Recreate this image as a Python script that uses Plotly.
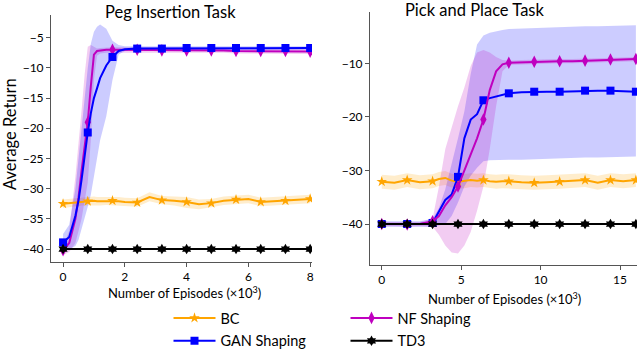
import numpy as np
import plotly.graph_objects as go

W, H = 638, 350

# ---------------- Peg Insertion (x in thousands of episodes) ----------------
peg_x = [0, 0.2, 0.4, 0.5, 0.6, 0.7, 0.8, 0.9, 1.0, 1.1, 1.2, 1.4, 1.6, 1.8, 2.0,
         2.4, 2.8, 3.2, 3.6, 4.0, 4.4, 4.8, 5.2, 5.6, 6.0, 6.4, 6.8, 7.2, 7.6, 8.0]
peg_bc = [-32.5, -32.4, -32.2, -32.2, -32.1, -32.1, -32.1, -32.0, -32.0, -32.1, -32.1, -32.0, -32.0, -32.1, -32.2,
          -32.3, -31.4, -31.9, -32.0, -32.2, -32.6, -32.4, -32.0, -31.8, -31.7, -32.2, -32.1, -32.0, -31.8, -31.7]
peg_bc_lo = [-33.2, -33.1, -32.9, -32.9, -32.8, -32.8, -32.8, -32.7, -32.7, -32.8, -32.8, -32.7, -32.7, -32.8, -32.9,
             -33.0, -32.1, -32.6, -32.8, -33.2, -33.4, -33.1, -32.7, -32.5, -32.4, -32.9, -32.8, -32.7, -32.5, -32.4]
peg_bc_hi = [-31.8, -31.7, -31.5, -31.5, -31.4, -31.4, -31.4, -31.3, -31.3, -31.4, -31.4, -31.3, -31.3, -31.4, -31.5,
             -31.6, -30.6, -31.2, -31.3, -31.4, -31.8, -31.7, -31.3, -31.1, -31.0, -31.5, -31.4, -31.3, -31.1, -31.0]
peg_gan = [-38.9, -38.0, -34.5, -32.0, -28.5, -24.5, -20.7, -17.5, -15.0, -13.4, -11.7, -9.6, -8.2, -7.2, -6.9,
           -6.8, -6.8, -6.8, -6.7, -6.7, -6.7, -6.7, -6.7, -6.7, -6.7, -6.7, -6.7, -6.7, -6.7, -6.7]
peg_gan_lo = [-40.3, -40.1, -39.5, -38.5, -37.0, -35.0, -33.0, -31.0, -28.0, -25.0, -22.0, -18.0, -12.0, -7.8, -7.2,
              -7.1, -7.1, -7.1, -7.0, -7.0, -7.0, -7.0, -7.0, -7.0, -7.0, -7.0, -7.0, -7.0, -7.0, -7.0]
peg_gan_hi = [-37.5, -36.0, -30.0, -25.0, -20.0, -14.0, -10.0, -6.0, -4.0, -3.2, -2.8, -3.5, -5.5, -6.2, -6.4,
              -6.4, -6.4, -6.4, -6.4, -6.4, -6.4, -6.4, -6.4, -6.4, -6.4, -6.4, -6.4, -6.4, -6.4, -6.4]
peg_nf = [-40.2, -39.0, -35.0, -31.5, -27.0, -23.0, -19.0, -13.0, -7.8, -7.2, -7.1, -7.0, -7.0, -7.0, -7.0,
          -7.0, -7.0, -7.1, -7.1, -7.1, -7.1, -7.1, -7.1, -7.2, -7.2, -7.2, -7.2, -7.2, -7.3, -7.3]
peg_nf_lo = [-41.0, -40.5, -39.0, -37.0, -35.0, -32.0, -29.0, -22.0, -12.0, -8.0, -7.6, -7.5, -7.4, -7.4, -7.4,
             -7.4, -7.4, -7.5, -7.5, -7.5, -7.5, -7.5, -7.5, -7.6, -7.6, -7.6, -7.6, -7.6, -7.7, -7.7]
peg_nf_hi = [-39.5, -37.0, -28.0, -23.0, -17.0, -11.0, -6.5, -6.2, -6.5, -6.8, -6.7, -6.6, -6.6, -6.6, -6.6,
             -6.6, -6.6, -6.7, -6.7, -6.7, -6.7, -6.7, -6.7, -6.8, -6.8, -6.8, -6.8, -6.8, -6.9, -6.9]
peg_td3 = [-40.0] * len(peg_x)
peg_marker_step = 0.8

# ---------------- Pick and Place ----------------
pnp_x = [0, 0.8, 1.6, 2.4, 3.2, 3.6, 4.0, 4.4, 4.8, 5.2, 5.6, 6.0, 6.4, 6.8, 7.2, 7.6, 8.0,
         8.8, 9.6, 10.4, 11.2, 12.0, 12.8, 13.6, 14.4, 15.2, 16.0]
pnp_bc = [-32.1, -32.3, -31.8, -32.2, -32.0, -31.6, -31.4, -31.9, -32.1, -32.0, -31.8, -31.9, -31.8, -32.0, -32.1, -32.0, -32.0,
          -32.2, -32.3, -32.2, -32.1, -32.0, -31.8, -32.3, -31.8, -32.0, -31.8]
pnp_bc_lo = [v - 1.3 for v in pnp_bc]
pnp_bc_hi = [v + 1.3 for v in pnp_bc]
pnp_gan = [-40.0, -40.0, -40.0, -40.0, -39.8, -37.5, -35.5, -34.5, -31.2, -24.0, -20.5, -19.5, -16.9, -16.5, -16.2, -15.9, -15.6,
           -15.4, -15.3, -15.3, -15.3, -15.2, -15.1, -15.1, -15.1, -15.2, -15.3]
pnp_gan_lo = [-40.5, -40.5, -40.5, -40.5, -40.5, -40.3, -40.0, -38.5, -36.0, -33.0, -31.0, -29.5, -28.3, -28.1, -28.1, -28.0, -28.0,
              -28.0, -27.9, -27.8, -27.7, -27.7, -27.6, -27.6, -27.5, -27.5, -27.4]
pnp_gan_hi = [-39.5, -39.5, -39.5, -39.5, -39.0, -37.0, -33.5, -29.0, -24.0, -19.0, -12.0, -6.5, -4.8, -4.3, -4.0, -3.8, -3.6,
              -3.5, -3.4, -3.3, -3.2, -3.2, -3.1, -3.1, -3.0, -3.0, -2.9]
pnp_nf = [-40.0, -40.0, -40.1, -40.0, -39.5, -38.5, -36.5, -35.0, -33.0, -30.0, -27.0, -24.0, -20.5, -15.0, -11.5, -10.2, -9.9,
          -9.8, -9.7, -9.7, -9.6, -9.6, -9.5, -9.4, -9.3, -9.3, -9.2]
pnp_nf_lo = [-40.4, -40.4, -40.5, -40.4, -40.5, -42.0, -44.0, -45.3, -45.5, -44.0, -41.5, -37.5, -33.0, -26.0, -18.0, -11.5, -10.3,
             -10.2, -10.1, -10.1, -10.0, -10.0, -9.9, -9.8, -9.7, -9.7, -9.6]
pnp_nf_hi = [-39.6, -39.6, -39.7, -39.6, -39.0, -33.0, -26.0, -22.0, -18.0, -14.5, -10.5, -8.0, -7.5, -8.0, -8.8, -9.4, -9.5,
             -9.4, -9.3, -9.3, -9.2, -9.2, -9.1, -9.0, -8.9, -8.9, -8.8]
pnp_td3 = [-40.0] * len(pnp_x)
pnp_marker_step = 1.6

# ---------------- styles ----------------
FONT = "Lato"
SERIES = {
    "BC": dict(color="#FFA500", fill="rgba(255,165,0,0.2)", symbol="star", size=8),
    "GAN Shaping": dict(color="#0000FF", fill="rgba(0,0,255,0.2)", symbol="square", size=8),
    "NF Shaping": dict(color="#BF00BF", fill="rgba(191,0,191,0.2)", symbol="diamond-tall", size=9),
    "TD3": dict(color="#000000", fill=None, symbol="hexagram", size=8),
}


def px(x):
    return x / W


def py(y):
    return 1 - y / H


fig = go.Figure()


def add_panel(xs, series, step, xa, ya):
    xs = np.array(xs)
    on_marker = np.abs(xs / step - np.round(xs / step)) < 1e-6
    # shaded bands first, then mean lines, then markers
    for name, (mean, lo, hi) in series.items():
        st = SERIES[name]
        if lo is None:
            continue
        fig.add_trace(go.Scatter(x=list(xs) + list(xs[::-1]), y=list(hi) + list(lo)[::-1],
                                 fill="toself", fillcolor=st["fill"], line=dict(width=0),
                                 mode="lines", hoverinfo="skip", showlegend=False,
                                 xaxis=xa, yaxis=ya))
    for name, (mean, lo, hi) in series.items():
        st = SERIES[name]
        mean = np.array(mean)
        fig.add_trace(go.Scatter(x=xs, y=mean, mode="lines", line=dict(color=st["color"], width=2),
                                 showlegend=False, xaxis=xa, yaxis=ya))
        fig.add_trace(go.Scatter(x=xs[on_marker], y=mean[on_marker], mode="markers",
                                 marker=dict(symbol=st["symbol"], size=st["size"], color=st["color"],
                                             line=dict(width=0)),
                                 showlegend=False, xaxis=xa, yaxis=ya))


add_panel(peg_x, {"BC": (peg_bc, peg_bc_lo, peg_bc_hi),
                  "NF Shaping": (peg_nf, peg_nf_lo, peg_nf_hi),
                  "GAN Shaping": (peg_gan, peg_gan_lo, peg_gan_hi),
                  "TD3": (peg_td3, None, None)}, peg_marker_step, "x", "y")
add_panel(pnp_x, {"BC": (pnp_bc, pnp_bc_lo, pnp_bc_hi),
                  "GAN Shaping": (pnp_gan, pnp_gan_lo, pnp_gan_hi),
                  "NF Shaping": (pnp_nf, pnp_nf_lo, pnp_nf_hi),
                  "TD3": (pnp_td3, None, None)}, pnp_marker_step, "x2", "y2")

# legend-only entries
legend_of = {"BC": "legend", "GAN Shaping": "legend", "NF Shaping": "legend2", "TD3": "legend2"}
for name, st in SERIES.items():
    fig.add_trace(go.Scatter(x=[None], y=[None], mode="lines+markers", name=name,
                             line=dict(color=st["color"], width=2),
                             marker=dict(symbol=st["symbol"], size=st["size"], color=st["color"]),
                             legend=legend_of[name], legendgroup=name))

axis_common = dict(showline=True, linecolor="#555555", linewidth=1, ticks="outside", ticklen=4,
                   tickcolor="#555555", tickfont=dict(family=FONT, size=12, color="black"),
                   showgrid=False, zeroline=False)

legend_common = dict(xanchor="left", yanchor="top", bgcolor="rgba(0,0,0,0)",
                     font=dict(family=FONT, size=14.5), tracegroupgap=1, itemwidth=42)

fig.update_layout(
    width=W, height=H, margin=dict(l=0, r=0, t=0, b=0, autoexpand=False),
    plot_bgcolor="white", paper_bgcolor="white",
    font=dict(family=FONT, color="black"),
    xaxis=dict(domain=[px(51), px(312)], range=[-0.39, 8.06], tickvals=[0, 2, 4, 6, 8],
               anchor="y", **axis_common),
    yaxis=dict(domain=[py(262), py(15)], range=[-42.15, -1.24], tickvals=[-40, -35, -30, -25, -20, -15, -10, -5],
               anchor="x", **axis_common),
    xaxis2=dict(domain=[px(370), px(637)], range=[-0.74, 16.07], tickvals=[0, 5, 10, 15],
                anchor="y2", **axis_common),
    yaxis2=dict(domain=[py(265), py(12)], range=[-47.65, -0.42], tickvals=[-40, -30, -20, -10],
                anchor="x2", **axis_common),
    legend=dict(x=px(168.5), y=py(302), **legend_common),
    legend2=dict(x=px(345.5), y=py(302), **legend_common),
)

ann = [
    dict(text="Peg Insertion Task", x=px(170), y=py(12.5), size=16.5),
    dict(text="Pick and Place Task", x=px(475), y=py(10), size=16.5),
    dict(text="Number of Episodes (×10<sup>3</sup>)", x=px(184), y=py(292), size=13),
    dict(text="Number of Episodes (×10<sup>3</sup>)", x=px(504), y=py(298), size=13),
]
for a in ann:
    fig.add_annotation(text=a["text"], x=a["x"], y=a["y"], xref="paper", yref="paper",
                       showarrow=False, xanchor="center", yanchor="middle",
                       font=dict(family=FONT, size=a["size"], color="black"))
fig.add_annotation(text="Average Return", x=px(10), y=py(134), xref="paper", yref="paper",
                   showarrow=False, textangle=-90, xanchor="center", yanchor="middle",
                   font=dict(family=FONT, size=16.5, color="black"))

# drop the page's default body margin so the figure sits at the window's top-left corner
fig.write_html("out.html", config={"displayModeBar": False},
               post_script="document.body.style.margin='0px';")
